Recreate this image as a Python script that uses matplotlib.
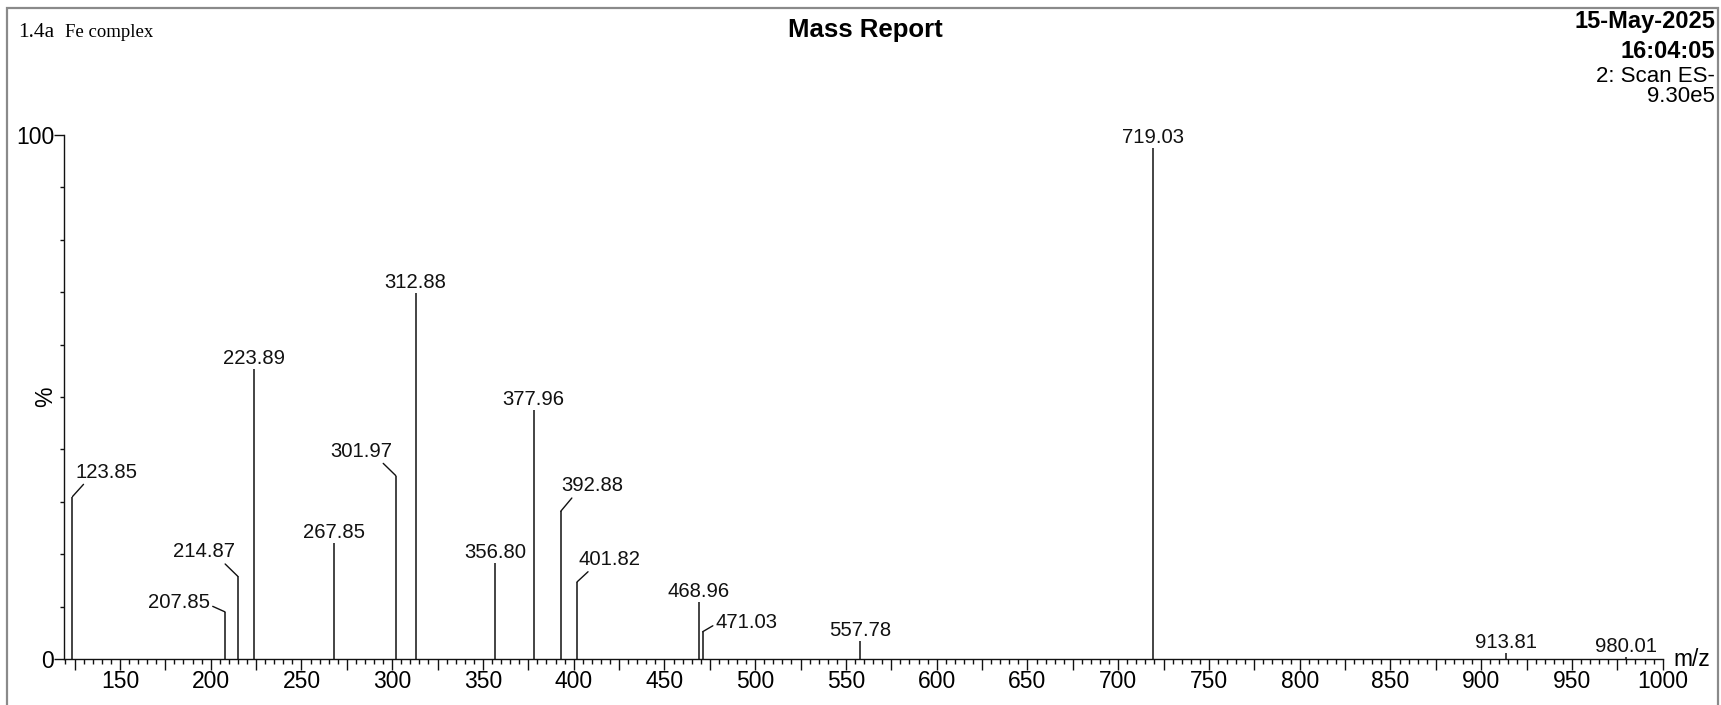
import matplotlib
matplotlib.use("Agg")
import matplotlib.pyplot as plt
import matplotlib.patches as patches
from matplotlib.ticker import MultipleLocator, FixedLocator, FuncFormatter

# peak list (m/z, relative intensity %)
peak_mz = [123.85, 207.85, 214.87, 223.89, 267.85, 301.97, 312.88, 356.80, 377.96,
           392.88, 401.82, 468.96, 471.03, 557.78, 719.03, 913.81, 980.01]
peak_int = [31.0, 9.0, 15.8, 55.3, 22.2, 35.0, 69.8, 18.4, 47.5,
            28.2, 14.7, 10.9, 5.2, 3.4, 97.5, 1.1, 0.4]

sample_id = "1.4a"
sample_name = "Fe complex"
title = "Mass Report"
date_str = "15-May-2025"
time_str = "16:04:05"
scan_str = "2: Scan ES-"
tic_str = "9.30e5"

# label placement: (dx px, dy px, ha, leader relpos)
label_layout = {
    123.85: (3, 19, 'left', (0.17, 0)),
    207.85: (-15, 3.5, 'right', (1, 0.38)),
    214.87: (-3, 19, 'right', (0.8, 0)),
    301.97: (-3, 19, 'right', (0.8, 0)),
    392.88: (1, 20, 'left', (0.2, 0)),
    401.82: (1, 17, 'left', (0.21, 0)),
    471.03: (13, 4, 'left', (0, 0.4)),
}

W, H = 1721, 705
FONT = 'Liberation Sans'
plt.rcParams['font.family'] = [FONT, 'DejaVu Sans']


def px(x, y):
    return x / W, 1 - y / H


fig = plt.figure(figsize=(W / 100, H / 100), dpi=100)
ax_left, ax_right, ax_top, ax_bottom = 64.3, 1662.7, 135, 659
ax = fig.add_axes([ax_left / W, (H - ax_bottom) / H, (ax_right - ax_left) / W, (ax_bottom - ax_top) / H])

ax.vlines(peak_mz, 0, peak_int, color='#111111', lw=1.1)

for mz, inten in zip(peak_mz, peak_int):
    txt = f"{mz:.2f}"
    if mz in label_layout:
        dx, dy, ha, rel = label_layout[mz]
        ax.annotate(txt, xy=(mz, inten), xytext=(dx, dy), textcoords='offset pixels',
                    ha=ha, va='baseline', fontsize=14.6, color='#111111',
                    arrowprops=dict(arrowstyle='-', color='#111111', lw=1,
                                    shrinkA=0, shrinkB=0, relpos=rel))
    else:
        ax.annotate(txt, xy=(mz, inten), xytext=(0, 5), textcoords='offset pixels',
                    ha='center', va='baseline', fontsize=14.6, color='#111111')

ax.set_xlim(119.34, 1000)
ax.set_ylim(0, 100)

for s in ['top', 'right']:
    ax.spines[s].set_visible(False)
for s in ['left', 'bottom']:
    ax.spines[s].set_color('#111111')
    ax.spines[s].set_linewidth(1)

ax.xaxis.set_major_locator(MultipleLocator(25))
ax.xaxis.set_minor_locator(MultipleLocator(5))
ax.xaxis.set_major_formatter(FuncFormatter(lambda v, p: f"{int(round(v))}" if round(v) % 50 == 0 else ""))
ax.tick_params(axis='x', which='major', length=8, width=1, pad=0, labelsize=16.5, color='#111111')
ax.tick_params(axis='x', which='minor', length=3.6, width=1, color='#111111')

ax.yaxis.set_major_locator(FixedLocator([0, 100]))
ax.yaxis.set_minor_locator(MultipleLocator(10))
ax.tick_params(axis='y', which='major', length=7.2, width=1, pad=0, labelsize=16.5, color='#111111')
ax.tick_params(axis='y', which='minor', length=3.2, width=1, color='#111111')

# header texts
fig.text(*px(18, 37), sample_id, family='Liberation Serif', fontsize=15.5, ha='left', va='baseline')
fig.text(*px(65, 37), sample_name, family='Liberation Serif', fontsize=13.5, ha='left', va='baseline')
fig.text(*px(865, 37), title, fontsize=18.5, fontweight='bold', ha='center', va='baseline')
fig.text(*px(1715, 28), date_str, fontsize=17, fontweight='bold', ha='right', va='baseline')
fig.text(*px(1715, 58), time_str, fontsize=17, fontweight='bold', ha='right', va='baseline')
fig.text(*px(1715, 82), scan_str, fontsize=16, ha='right', va='baseline')
fig.text(*px(1715, 102), tic_str, fontsize=16, ha='right', va='baseline')

fig.text(*px(46, 397), "%", fontsize=16.5, rotation=90, ha='center', va='center')
fig.text(*px(1673, 666), "m/z", fontsize=16.4, ha='left', va='baseline')

# grey outer frame
frame = patches.Rectangle(px(7, H + 10), (1718 - 7) / W, (H + 10 - 8) / H,
                          transform=fig.transFigure, fill=False, ec='#8a8a8a', lw=1.6,
                          clip_on=False)
fig.patches.append(frame)

fig.savefig('out.png', dpi=100)
